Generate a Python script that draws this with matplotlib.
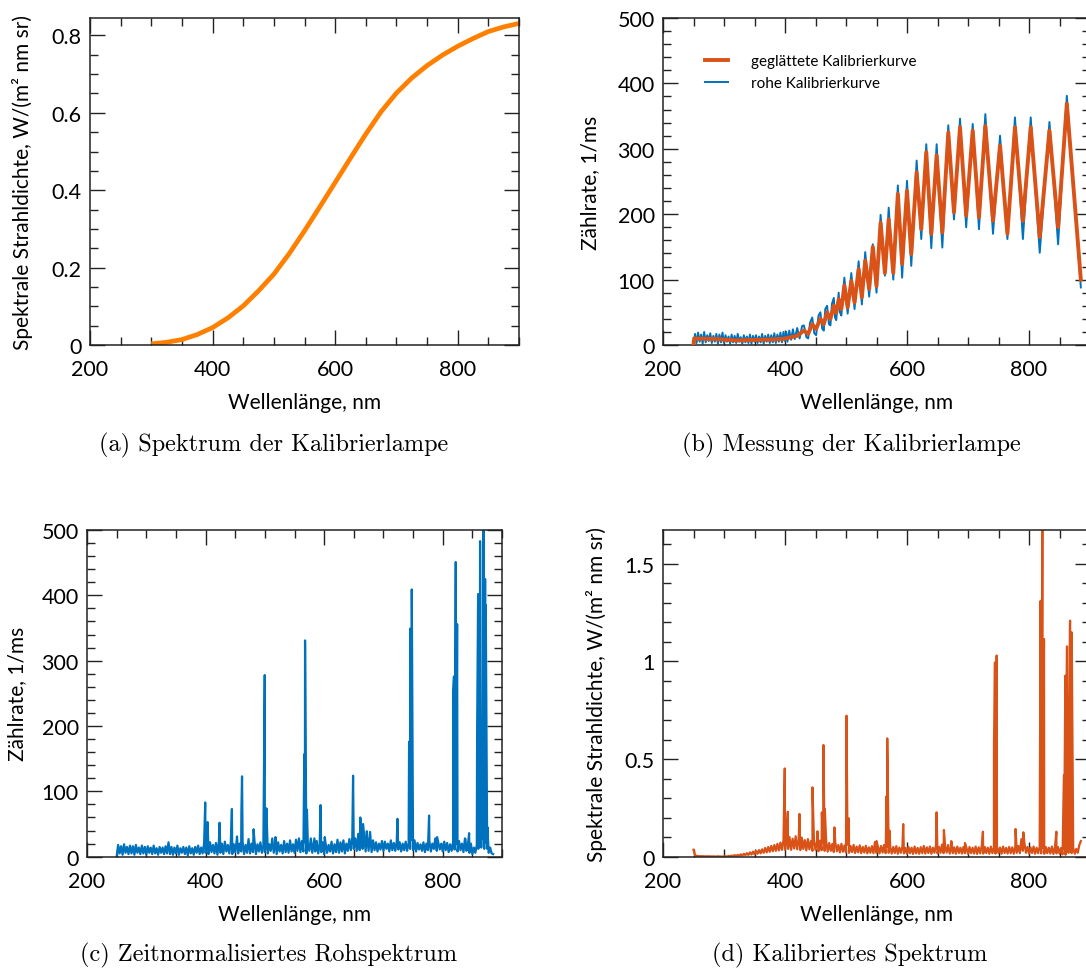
import numpy as np
import matplotlib
matplotlib.use('Agg')
import matplotlib.pyplot as plt
from matplotlib.ticker import MultipleLocator, FormatStrFormatter

plt.rcParams['font.family'] = ['Lato', 'DejaVu Sans']

#%% data
# (a) lamp spectrum
lamp_x = [300, 325, 350, 375, 400, 425, 450, 475, 500, 525, 550, 575, 600,
          625, 650, 675, 700, 725, 750, 775, 800, 825, 850, 875, 900]
lamp_y = [0.003, 0.007, 0.014, 0.027, 0.045, 0.07, 0.101, 0.14, 0.183, 0.236,
          0.295, 0.357, 0.42, 0.483, 0.545, 0.603, 0.651, 0.69, 0.722, 0.749,
          0.772, 0.792, 0.81, 0.822, 0.831]

# (b) smoothed calibration curve (peaks / troughs)
smooth_x = [250, 251, 270, 290, 305, 320, 340, 360, 380, 398, 410, 420,
            431, 438, 444.6, 451, 458, 463.6, 469, 474.5, 480, 484, 488, 492.4,
            497.3, 502.7, 508.7, 514, 520.7, 526, 531.5, 538, 544, 550,
            556.7, 563.8, 570, 577.5, 585, 592, 600, 607, 615.8, 623.4,
            631.6, 639.8, 648.6, 657.9, 667.7, 677, 686.9, 697, 707.7, 718,
            728.4, 741, 752.5, 764.6, 777, 790, 802.8, 817.6, 833.5, 847.7,
            862, 885]
smooth_y = [0, 10, 9.5, 9, 8, 7, 7.5, 8, 8.5, 9.5, 12, 14,
            22, 17, 32, 24.5, 40, 32, 50, 40, 60, 49, 70, 55,
            91, 57.6, 98, 65, 116, 73, 129, 85.6, 150, 90,
            187, 110, 192, 110, 231, 124, 236, 139, 264, 177,
            295, 170, 290, 172, 325, 203, 333, 198, 328, 195,
            335, 190, 305, 170, 333, 190, 333, 165, 328, 180,
            369, 100]

# (b) raw calibration curve: noisy flat part on a 2.5 nm grid ...
raw_flat_x = np.arange(252.5, 400, 2.5)
raw_flat_y = [17, 3, 19, 5, 16, 2, 20, 4, 15, 6, 18, 3, 14, 5, 17, 2, 16, 4, 19, 3,
              15, 5, 13, 2, 16, 4, 14, 3, 17, 5, 12, 2, 15, 4, 13, 3, 16, 2, 14, 5,
              15, 3, 13, 4, 17, 2, 14, 5, 16, 3, 15, 4, 18, 3, 16, 5, 19, 4, 20]
# ... and the fringe extremes
raw_osc_x = [400, 402, 404, 407, 410, 413, 416, 420, 424, 428, 431, 435, 438,
             441, 444.6, 448, 451, 455, 458, 461, 463.6, 466, 469, 472, 474.5,
             477, 480, 482, 484, 488, 490, 492.4, 497.3, 502.7, 508.7, 514,
             520.7, 526, 531.5, 538, 544, 550, 556.7, 563.8, 570, 577.5, 585,
             592, 600, 607, 615.8, 623.4, 631.6, 639.8, 648.6, 657.9, 667.7,
             677, 686.9, 697, 707.7, 718, 728.4, 741, 752.5, 764.6, 777, 790,
             802.8, 817.6, 833.5, 847.7, 862, 885]
raw_osc_y = [6, 20, 5, 22, 8, 24, 9, 26, 10, 29, 30, 12, 10,
             34, 42, 18, 15, 45, 50, 25, 22, 55, 60, 32, 30,
             63, 72, 42, 38, 80, 50, 45, 103, 48, 110, 55,
             128, 62, 142, 74, 154, 80, 199, 106, 210, 100, 244,
             103, 251, 121, 282, 162, 307, 148, 307, 149, 336,
             192, 346, 180, 338, 177, 353, 170, 320, 162, 348, 162,
             348, 141, 341, 154, 381, 88]

# (c)/(d) common wavelength grid for the noise floor
base_x = np.arange(250, 885.1, 2.5)

raw_base = [0, 18, 5, 16, 3, 19, 6, 15, 4, 17,
            5, 16, 3, 18, 6, 14, 4, 17, 5, 15,
            3, 16, 6, 14, 4, 17, 5, 13, 3, 15,
            6, 14, 4, 16, 5, 22, 4, 15, 3, 14,
            5, 17, 3, 13, 6, 15, 4, 14, 2, 16,
            5, 13, 3, 15, 6, 17, 4, 14, 5, 20,
            6, 19, 4, 22, 7, 18, 5, 21, 3, 24,
            6, 20, 4, 23, 8, 18, 5, 21, 4, 19,
            7, 25, 5, 20, 8, 22, 4, 18, 6, 27,
            5, 20, 7, 24, 4, 19, 8, 22, 6, 18,
            7, 21, 5, 19, 9, 28, 6, 20, 4, 22,
            8, 18, 5, 24, 7, 20, 6, 25, 8, 19,
            6, 26, 9, 28, 7, 24, 8, 22, 5, 20,
            9, 28, 6, 21, 8, 24, 5, 19, 7, 22,
            4, 20, 6, 18, 8, 23, 5, 19, 7, 26,
            6, 22, 8, 25, 5, 20, 9, 27, 10, 30,
            12, 28, 9, 35, 10, 40, 12, 32, 8, 30,
            9, 38, 7, 25, 10, 22, 8, 20, 11, 24,
            9, 23, 12, 20, 8, 25, 10, 21, 9, 24,
            11, 22, 8, 20, 10, 23, 9, 21, 12, 26,
            10, 25, 8, 21, 11, 19, 9, 22, 7, 20,
            10, 24, 8, 20, 12, 28, 9, 22, 11, 20,
            8, 23, 10, 21, 7, 19, 9, 22, 11, 20,
            8, 24, 10, 20, 7, 28, 9, 18, 6, 20,
            4, 14, 6, 18, 12, 25, 14, 28, 12, 22,
            12, 6, 14, 5, 4]
raw_lines_x = [399.4, 403.4, 423.6, 444.4, 453, 460.4, 461.5, 481, 499.8, 502.6,
               518, 566.5, 567.8, 571, 583.6, 594, 601, 648.8, 661, 665.7, 672,
               723.6, 743.3, 745, 747.8, 777, 790.6, 817.5, 819, 822, 824.3,
               838.4, 844.5, 858, 859.7, 863, 866.5, 868.7, 871.5, 872.6, 875.5]
raw_lines_y = [83, 53, 52, 73, 31, 68, 123, 42, 278, 74,
               30, 157, 331, 72, 28, 79, 30, 124, 60, 50, 39,
               58, 176, 349, 409, 63, 30, 251, 276, 451, 356,
               27, 36, 187, 402, 483, 212, 510, 425, 385, 45]

cal_base = [0.036, 0.008, 0.004, 0.003, 0.003, 0.002, 0.003, 0.002, 0.002, 0.002,
            0.002, 0.002, 0.001, 0.002, 0.001, 0.001, 0.002, 0.001, 0.001, 0.001,
            0.001, 0.002, 0.001, 0.004, 0.002, 0.006, 0.003, 0.008, 0.004, 0.009,
            0.005, 0.012, 0.006, 0.015, 0.008, 0.018, 0.009, 0.022, 0.011, 0.026,
            0.012, 0.03, 0.015, 0.034, 0.017, 0.038, 0.02, 0.045, 0.022, 0.05,
            0.025, 0.055, 0.028, 0.06, 0.03, 0.066, 0.032, 0.072, 0.035, 0.085,
            0.036, 0.095, 0.04, 0.1, 0.035, 0.092, 0.042, 0.105, 0.038, 0.09,
            0.034, 0.098, 0.04, 0.085, 0.032, 0.09, 0.038, 0.08, 0.03, 0.086,
            0.035, 0.075, 0.028, 0.082, 0.033, 0.07, 0.03, 0.078, 0.026, 0.07,
            0.03, 0.065, 0.024, 0.072, 0.028, 0.06, 0.022, 0.066, 0.025, 0.058,
            0.022, 0.062, 0.02, 0.055, 0.024, 0.06, 0.019, 0.052, 0.022, 0.058,
            0.018, 0.05, 0.021, 0.056, 0.017, 0.048, 0.02, 0.054, 0.018, 0.075,
            0.02, 0.05, 0.017, 0.055, 0.021, 0.06, 0.018, 0.052, 0.02, 0.048,
            0.016, 0.05, 0.019, 0.054, 0.015, 0.047, 0.02, 0.052, 0.017, 0.045,
            0.015, 0.05, 0.018, 0.046, 0.014, 0.052, 0.017, 0.045, 0.015, 0.049,
            0.018, 0.055, 0.016, 0.048, 0.019, 0.052, 0.015, 0.046, 0.02, 0.058,
            0.017, 0.05, 0.02, 0.062, 0.018, 0.055, 0.021, 0.06, 0.016, 0.05,
            0.018, 0.048, 0.015, 0.052, 0.019, 0.046, 0.016, 0.05, 0.018, 0.045,
            0.015, 0.05, 0.018, 0.046, 0.016, 0.052, 0.014, 0.048, 0.017, 0.055,
            0.016, 0.05, 0.019, 0.046, 0.015, 0.052, 0.018, 0.048, 0.016, 0.05,
            0.018, 0.047, 0.015, 0.052, 0.019, 0.045, 0.016, 0.05, 0.018, 0.048,
            0.015, 0.05, 0.02, 0.055, 0.018, 0.09, 0.03, 0.07, 0.02, 0.05,
            0.016, 0.048, 0.019, 0.052, 0.015, 0.046, 0.018, 0.05, 0.017, 0.045,
            0.015, 0.05, 0.018, 0.046, 0.016, 0.052, 0.014, 0.048, 0.017, 0.05,
            0.015, 0.045, 0.012, 0.04, 0.01, 0.035, 0.02, 0.05, 0.018, 0.045,
            0.015, 0.04, 0.02, 0.06, 0.08]
cal_lines_x = [399.6, 404.6, 423.7, 445, 453.2, 460.4, 463, 465.3, 481, 500.8,
               504.7, 550, 566.5, 567.6, 571.4, 593.8, 648.5, 660.5, 672.6, 695,
               724.5, 742.6, 744.2, 747, 778, 790.7, 819, 821.9, 824.6, 844.9,
               857.4, 859.6, 862.3, 865, 867.3, 870, 872.2]
cal_lines_y = [0.452, 0.23, 0.219, 0.355, 0.13, 0.227, 0.572, 0.244, 0.15, 0.722,
               0.196, 0.08, 0.31, 0.606, 0.133, 0.167, 0.227, 0.137, 0.08, 0.07,
               0.128, 0.57, 0.995, 1.03, 0.142, 0.125, 1.31, 1.75, 1.115, 0.128,
               0.418, 0.927, 1.077, 0.475, 1.209, 1.149, 0.193]

BLUE = '#0072BD'
RED = '#D95319'
ORANGE = '#FF8000'
XLAB = 'Wellenlänge, nm'
LRAD = 'Spektrale Strahldichte, W/(m² nm sr)'
LRATE = 'Zählrate, 1/ms'


def merge(bx, by, lx, ly):
    """floor + emission lines, sorted by wavelength"""
    x = np.concatenate([bx, lx])
    y = np.concatenate([by, ly])
    o = np.argsort(x, kind='stable')
    return x[o], y[o]


def style(ax, ymax, ymaj, ymin, xlab, ylab, ylx):
    ax.set_xlim(200, 900)
    ax.set_ylim(0, ymax)
    ax.xaxis.set_major_locator(MultipleLocator(200))
    ax.xaxis.set_minor_locator(MultipleLocator(50))
    ax.yaxis.set_major_locator(MultipleLocator(ymaj))
    ax.yaxis.set_minor_locator(MultipleLocator(ymin))
    ax.yaxis.set_major_formatter(FormatStrFormatter('%g'))
    ax.xaxis.set_major_formatter(FormatStrFormatter('%g'))
    ax.tick_params(which='both', direction='in', top=True, right=True,
                   width=1.0, color='#222222', labelsize=15.5)
    ax.tick_params(which='major', length=11)
    ax.tick_params(which='minor', length=6)
    ax.tick_params(axis='x', pad=10)
    ax.tick_params(axis='y', pad=6)
    for s in ax.spines.values():
        s.set_linewidth(1.1)
        s.set_color('#222222')
    ax.set_xlabel(xlab, fontsize=15)
    ax.set_ylabel(ylab, fontsize=15)
    ax.xaxis.set_label_coords(0.5, -0.145)
    ax.yaxis.set_label_coords(ylx, 0.5)


fig = plt.figure(figsize=(10.86, 9.70), dpi=100)
W, H = 1086.0, 970.0
ax_a = fig.add_axes([90 / W, 1 - 346 / H, 429 / W, 327 / H])
ax_b = fig.add_axes([663 / W, 1 - 346 / H, 427 / W, 327 / H])
ax_c = fig.add_axes([87 / W, 1 - 857.7 / H, 415 / W, 326.7 / H])
ax_d = fig.add_axes([663 / W, 1 - 857.7 / H, 427 / W, 326.7 / H])

#%% (a)
ax_a.plot(lamp_x, lamp_y, color=ORANGE, lw=3.4, solid_capstyle='butt')
style(ax_a, 0.845, 0.2, 0.05, XLAB, LRAD, -0.133)

#%% (b)
rx = np.concatenate([[250], raw_flat_x, raw_osc_x])
ry = np.concatenate([[0], raw_flat_y, raw_osc_y])
ax_b.plot(rx, ry, color=BLUE, lw=1.4, zorder=2, label='rohe Kalibrierkurve')
ax_b.plot(smooth_x, smooth_y, color=RED, lw=2.8, zorder=3,
          label='geglättete Kalibrierkurve')
style(ax_b, 500, 100, 20, XLAB, LRATE, -0.148)
h, l = ax_b.get_legend_handles_labels()
ax_b.legend(h[::-1], l[::-1], loc='upper left', bbox_to_anchor=(0.098, 0.89),
            frameon=False, fontsize=11, borderpad=0, borderaxespad=0,
            handlelength=1.5, handletextpad=1.5, labelspacing=0.55)

#%% (c)
cx, cy = merge(base_x, raw_base, raw_lines_x, raw_lines_y)
ax_c.plot(cx, cy, color=BLUE, lw=1.6)
style(ax_c, 500, 100, 20, XLAB, LRATE, -0.145)

#%% (d)
dx, dy = merge(base_x, cal_base, cal_lines_x, cal_lines_y)
ax_d.plot(dx, dy, color=RED, lw=1.6)
style(ax_d, 1.673, 0.5, 0.1, XLAB, LRAD, -0.131)

#%% captions
cap = dict(ha='center', va='center', family='cmr10', fontsize=17.5)
fig.text(274 / W, 1 - 445 / H, '(a) Spektrum der Kalibrierlampe', **cap)
fig.text(851 / W, 1 - 445 / H, '(b) Messung der Kalibrierlampe', **cap)
fig.text(269 / W, 1 - 955 / H, '(c) Zeitnormalisiertes Rohspektrum', **cap)
fig.text(850 / W, 1 - 955 / H, '(d) Kalibriertes Spektrum', **cap)

fig.savefig('out.png', dpi=100)
